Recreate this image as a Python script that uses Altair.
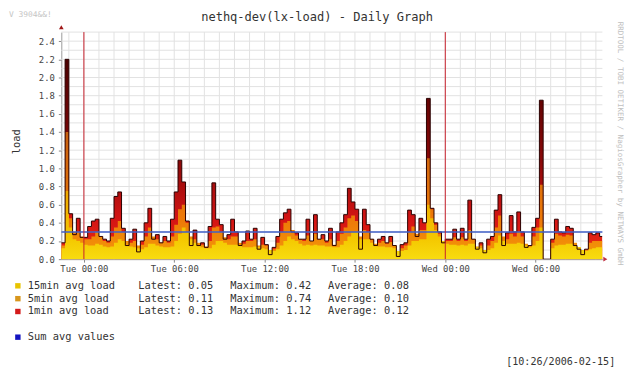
import altair as alt
import pandas as pd

# ---- data ----
START_HOUR = -1.5      # Mon 22:30, hours relative to Tue 00:00
STEP_HOURS = 0.25      # one sample every 15 minutes
END_HOUR = 34.433      # Wed 10:26

load_1min = [0.18, 2.2, 0.5, 0.27, 0.45, 0.24, 0.24, 0.36, 0.42, 0.44,
             0.25, 0.22, 0.2, 0.45, 0.69, 0.74, 0.34, 0.15, 0.22, 0.33,
             0.08, 0.2, 0.40, 0.56, 0.22, 0.27, 0.18, 0.25, 0.2, 0.44,
             0.74, 1.09, 0.85, 0.42, 0.15, 0.32, 0.15, 0.18, 0.13, 0.36,
             0.84, 0.44, 0.38, 0.22, 0.27, 0.44, 0.3, 0.15, 0.2, 0.31,
             0.22, 0.34, 0.11, 0.24, 0.16, 0.05, 0.13, 0.25, 0.44, 0.51,
             0.55, 0.3, 0.29, 0.22, 0.22, 0.44, 0.2, 0.49, 0.22, 0.27,
             0.2, 0.34, 0.15, 0.3, 0.40, 0.49, 0.78, 0.63, 0.55, 0.11,
             0.55, 0.38, 0.22, 0.15, 0.22, 0.25, 0.18, 0.25, 0.15, 0.03,
             0.16, 0.18, 0.54, 0.49, 0.25, 0.45, 0.40, 1.77, 0.56, 0.40,
             0.3, 0.18, 0.22, 0.22, 0.33, 0.22, 0.34, 0.22, 0.65, 0.22,
             0.11, 0.18, 0.07, 0.22, 0.25, 0.54, 0.71, 0.15, 0.29, 0.48,
             0.3, 0.52, 0.3, 0.13, 0.15, 0.35, 0.45, 1.75, 0.0, 0.0,
             0.22, 0.44, 0.3, 0.29, 0.36, 0.34, 0.15, 0.11, 0.05, 0.11,
             0.29, 0.27, 0.29, 0.25]

load_5min = [0.15, 1.4, 0.45, 0.3, 0.3, 0.25, 0.22, 0.22, 0.25, 0.3,
             0.25, 0.2, 0.18, 0.25, 0.35, 0.42, 0.3, 0.2, 0.18, 0.2,
             0.15, 0.16, 0.25, 0.35, 0.25, 0.22, 0.18, 0.2, 0.18, 0.25,
             0.38, 0.55, 0.6, 0.4, 0.25, 0.22, 0.18, 0.16, 0.14, 0.2,
             0.35, 0.36, 0.3, 0.24, 0.22, 0.25, 0.25, 0.18, 0.17, 0.2,
             0.2, 0.22, 0.15, 0.16, 0.15, 0.1, 0.11, 0.18, 0.3, 0.4,
             0.42, 0.32, 0.26, 0.22, 0.2, 0.26, 0.2, 0.28, 0.22, 0.22,
             0.18, 0.22, 0.16, 0.2, 0.28, 0.35, 0.45, 0.48, 0.42, 0.25,
             0.32, 0.3, 0.22, 0.17, 0.18, 0.2, 0.17, 0.19, 0.15, 0.08,
             0.12, 0.15, 0.3, 0.36, 0.28, 0.32, 0.32, 1.11, 0.55, 0.38,
             0.28, 0.2, 0.2, 0.2, 0.24, 0.2, 0.24, 0.2, 0.32, 0.22,
             0.14, 0.15, 0.1, 0.15, 0.2, 0.35, 0.48, 0.25, 0.22, 0.28,
             0.25, 0.3, 0.25, 0.17, 0.15, 0.25, 0.35, 0.82, 0.0, 0.0,
             0.18, 0.28, 0.26, 0.25, 0.27, 0.26, 0.18, 0.13, 0.08, 0.1,
             0.18, 0.2, 0.2, 0.2]

load_15min = [0.12, 0.75, 0.35, 0.22, 0.2, 0.18, 0.16, 0.15, 0.15, 0.17,
              0.16, 0.14, 0.13, 0.14, 0.18, 0.22, 0.2, 0.16, 0.14, 0.13,
              0.12, 0.11, 0.13, 0.17, 0.17, 0.15, 0.14, 0.13, 0.13, 0.14,
              0.2, 0.28, 0.35, 0.3, 0.22, 0.18, 0.15, 0.13, 0.12, 0.12,
              0.16, 0.2, 0.2, 0.18, 0.16, 0.16, 0.16, 0.15, 0.13, 0.13,
              0.13, 0.14, 0.13, 0.12, 0.11, 0.1, 0.09, 0.11, 0.15, 0.2,
              0.25, 0.22, 0.2, 0.17, 0.15, 0.16, 0.15, 0.16, 0.15, 0.15,
              0.14, 0.14, 0.13, 0.13, 0.16, 0.2, 0.25, 0.3, 0.3, 0.22,
              0.22, 0.22, 0.18, 0.15, 0.14, 0.14, 0.13, 0.13, 0.12, 0.09,
              0.09, 0.1, 0.15, 0.2, 0.2, 0.22, 0.22, 0.6, 0.45, 0.32,
              0.25, 0.2, 0.17, 0.16, 0.16, 0.15, 0.16, 0.15, 0.17, 0.17,
              0.13, 0.12, 0.1, 0.1, 0.12, 0.18, 0.26, 0.2, 0.17, 0.17,
              0.17, 0.18, 0.17, 0.15, 0.13, 0.15, 0.2, 0.35, 0.0, 0.0,
              0.12, 0.15, 0.16, 0.16, 0.17, 0.17, 0.15, 0.13, 0.1, 0.09,
              0.11, 0.12, 0.13, 0.13]

sum_avg = 0.30
midnight_hours = [0, 24]
tick_hours = [0, 6, 12, 18, 24, 30]
grid_hours = list(range(-1, 35))
grid_loads = [round(0.1 * k, 1) for k in range(1, 26)]
y_tick_values = [round(0.2 * k, 1) for k in range(0, 13)]

legend_names = ["15min avg load", "5min avg load", "1min avg load"]
legend_colors = ["#E8C400", "#D8961C", "#D41A1A"]
latest = [0.05, 0.11, 0.13]
maximum = [0.42, 0.74, 1.12]
average = [0.08, 0.10, 0.12]
sum_label = "Sum avg values"
sum_color = "#1414C0"

title_text = "nethq-dev(lx-load) - Daily Graph"
stamp_text = "[10:26/2006-02-15]"
watermark = "RRDTOOL / TOBI OETIKER / NagiosGrapher by NETWAYS GmbH"
version_text = "V 3904&&!"

MONO = "DejaVu Sans Mono"
W, H = 548, 230

# ---- tables ----
hours = [START_HOUR + STEP_HOURS * i for i in range(len(load_1min))]
df = pd.DataFrame({"h": hours, "m1": load_1min, "m5": load_5min, "m15": load_15min})
# close the last step at the end of the graph
df = pd.concat([df, pd.DataFrame({"h": [END_HOUR], "m1": [load_1min[-1]],
                                  "m5": [load_5min[-1]], "m15": [load_15min[-1]]})],
               ignore_index=True)

xs = alt.Scale(domain=[START_HOUR, END_HOUR], nice=False, zero=False)
ys = alt.Scale(domain=[0, 2.5], nice=False)

x_axis = alt.Axis(values=tick_hours, labelFont=MONO, labelFontSize=9, labelColor="#444",
                  tickSize=3, tickColor="#888", domainColor="#999", grid=False,
                  labelPadding=2, title=None,
                  labelExpr="(datum.value < 24 ? 'Tue ' : 'Wed ') + "
                            "(datum.value % 24 < 10 ? '0' : '') + (datum.value % 24) + ':00'")
y_axis = alt.Axis(values=y_tick_values, format=".1f", labelFont=MONO, labelFontSize=9,
                  labelColor="#444", tickSize=3, tickColor="#888", domainColor="#999",
                  grid=False, labelPadding=4, title=None)


def X(field="h"):
    return alt.X(f"{field}:Q", scale=xs, axis=x_axis, title=None)


def Y(field):
    return alt.Y(f"{field}:Q", scale=ys, axis=y_axis, title=None)


def grad(stops):
    return alt.Gradient(gradient="linear",
                        stops=[alt.GradientStop(color=c, offset=o) for o, c in stops],
                        x1=0, x2=0, y1=0, y2=1)


one = pd.DataFrame({"a": [0]})

hgrid = alt.Chart(pd.DataFrame({"v": grid_loads})).mark_rule(
    color="#E2E2E2", strokeWidth=1).encode(y=Y("v"))
vgrid = alt.Chart(pd.DataFrame({"h": grid_hours})).mark_rule(
    color="#E2E2E2", strokeWidth=1).encode(x=X("h"))

a1 = alt.Chart(df).mark_area(interpolate="step-after", clip=True, color=grad([
    (0.0, "#4C0000"), (0.5, "#880808"), (0.8, "#D41414"), (1.0, "#F03010")])).encode(
    x=X(), y=Y("m1"))
a5 = alt.Chart(df).mark_area(interpolate="step-after", clip=True, color=grad([
    (0.0, "#C86010"), (0.7, "#EE7A08"), (1.0, "#F49A08")])).encode(
    x=X(), y=Y("m5"))
a15 = alt.Chart(df).mark_area(interpolate="step-after", clip=True, color=grad([
    (0.0, "#F0A800"), (0.7, "#F4C800"), (1.0, "#F8DC10")])).encode(
    x=X(), y=Y("m15"))
l1 = alt.Chart(df).mark_line(interpolate="step-after", clip=True, color="#2A0000",
                             strokeWidth=1).encode(x=X(), y=Y("m1"))

blue = alt.Chart(pd.DataFrame({"v": [sum_avg]})).mark_rule(
    color="#4060C8", strokeWidth=1.5).encode(y=Y("v"))
red = alt.Chart(pd.DataFrame({"h": midnight_hours})).mark_rule(
    color="#C8202C", strokeWidth=1).encode(x=X("h"))

arrow_y = alt.Chart(one).mark_point(shape="triangle-up", filled=True, size=22,
                                    color="#A01818", opacity=1).encode(
    x=alt.value(0), y=alt.value(-5))
arrow_x = alt.Chart(one).mark_point(shape="triangle-right", filled=True, size=22,
                                    color="#C03040", opacity=1).encode(
    x=alt.value(W + 3), y=alt.value(H))

texts = []


def txt(s, x, y, size=10.5, color="#333", align="left", angle=0, baseline="middle"):
    texts.append(alt.Chart(one).mark_text(text=s, font=MONO, fontSize=size, color=color,
                                          align=align, baseline=baseline, angle=angle).encode(
        x=alt.value(x), y=alt.value(y)))


txt(title_text, 259, -15, size=12.2, align="center")
txt(version_text, -53, -21, size=8, color="#C4C4C4", baseline="top")
txt("load", -45, 111, size=10.5, angle=270, align="center")
txt(watermark, 566, 113, size=7.6, color="#C0C0C0", angle=90, align="center")
txt(stamp_text, 561, 334, size=10.2, align="right")

rows_y = [257, 270, 283]
squares = []
for i, name in enumerate(legend_names):
    yy = rows_y[i]
    squares.append(alt.Chart(one).mark_square(size=30, color=legend_colors[i], opacity=1).encode(
        x=alt.value(-44), y=alt.value(yy)))
    txt(name, -34, yy)
    txt(f"Latest: {latest[i]:.2f}", 78, yy)
    txt(f"Maximum: {maximum[i]:.2f}", 171, yy)
    txt(f"Average: {average[i]:.2f}", 270, yy)
squares.append(alt.Chart(one).mark_square(size=30, color=sum_color, opacity=1).encode(
    x=alt.value(-44), y=alt.value(309)))
txt(sum_label, -34, 309)

chart = alt.layer(hgrid, vgrid, a1, a5, a15, l1, blue, red, arrow_y, arrow_x,
                  *squares, *texts).properties(
    width=W, height=H,
    autosize=alt.AutoSizeParams(type="none"),
    padding={"left": 54, "top": 22, "right": 30, "bottom": 121},
    background="#FFFFFF",
).configure_view(stroke=None)

chart.save("out.html", embed_options={"renderer": "svg", "actions": False})
